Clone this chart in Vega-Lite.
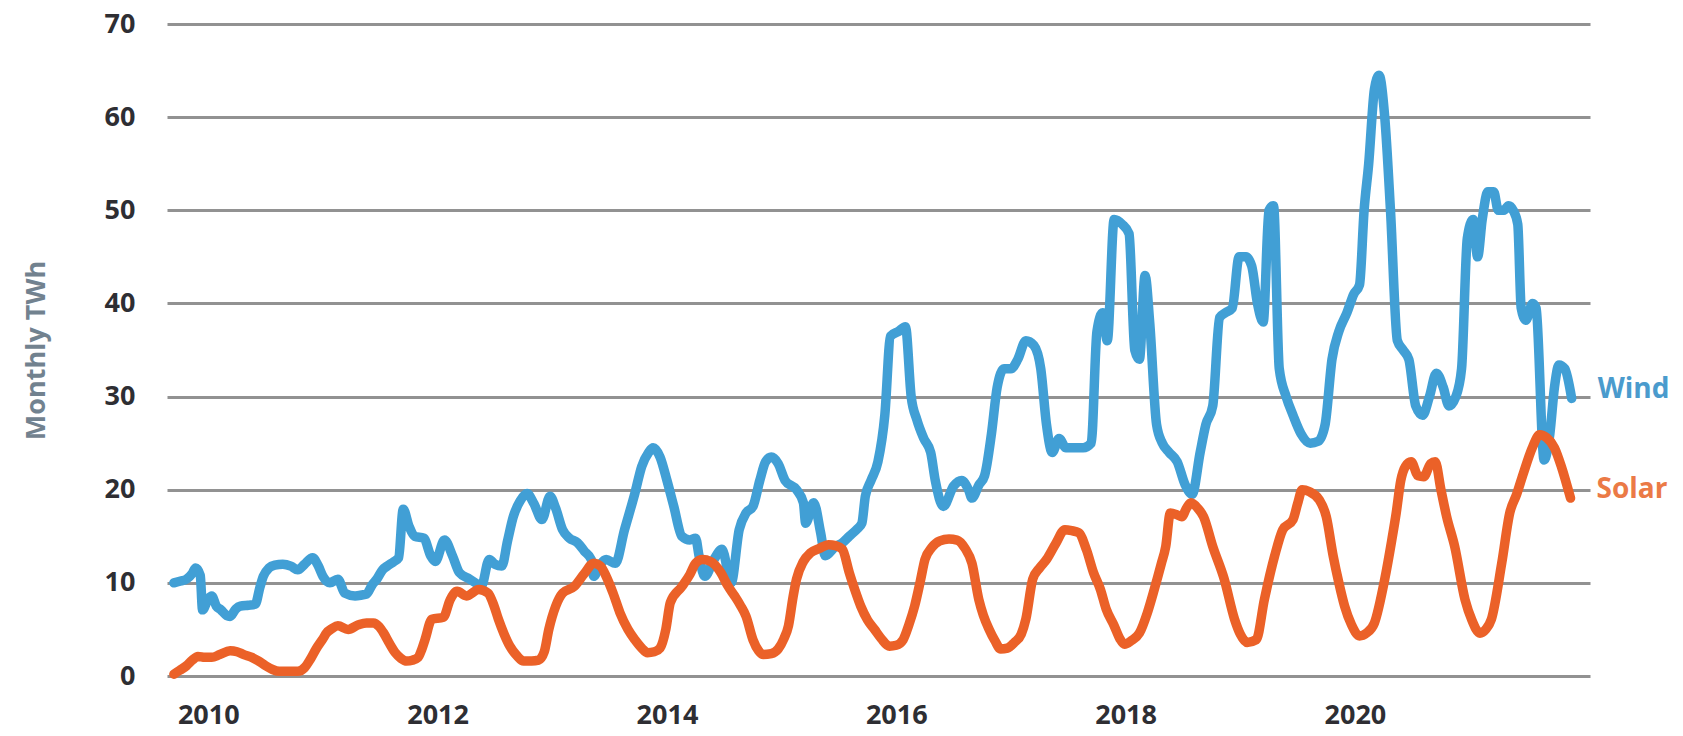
{
  "$schema": "https://vega.github.io/schema/vega-lite/v6.json",
  "autosize": "none",
  "width": 1423,
  "height": 652,
  "padding": {"left": 167, "top": 24, "right": 93, "bottom": 60},
  "background": "white",
  "config": {
    "view": {"stroke": null},
    "font": "Open Sans",
    "axis": {
      "labelFont": "Open Sans",
      "labelFontWeight": "bold",
      "labelFontSize": 27,
      "labelColor": "#2e2e33",
      "domain": false,
      "ticks": false
    }
  },
  "data": {
    "values": [
      {"series": "Wind", "year": 2009.70, "value": 10.0},
      {"series": "Wind", "year": 2009.76, "value": 10.2},
      {"series": "Wind", "year": 2009.81, "value": 10.4},
      {"series": "Wind", "year": 2009.86, "value": 11.0},
      {"series": "Wind", "year": 2009.89, "value": 11.6},
      {"series": "Wind", "year": 2009.93, "value": 10.8},
      {"series": "Wind", "year": 2009.95, "value": 7.1},
      {"series": "Wind", "year": 2010.00, "value": 8.3},
      {"series": "Wind", "year": 2010.03, "value": 8.6},
      {"series": "Wind", "year": 2010.07, "value": 7.5},
      {"series": "Wind", "year": 2010.11, "value": 7.1},
      {"series": "Wind", "year": 2010.16, "value": 6.5},
      {"series": "Wind", "year": 2010.19, "value": 6.4},
      {"series": "Wind", "year": 2010.24, "value": 7.2},
      {"series": "Wind", "year": 2010.28, "value": 7.5},
      {"series": "Wind", "year": 2010.35, "value": 7.6},
      {"series": "Wind", "year": 2010.41, "value": 7.7},
      {"series": "Wind", "year": 2010.45, "value": 9.5},
      {"series": "Wind", "year": 2010.48, "value": 10.7},
      {"series": "Wind", "year": 2010.53, "value": 11.6},
      {"series": "Wind", "year": 2010.58, "value": 11.9},
      {"series": "Wind", "year": 2010.65, "value": 12.0},
      {"series": "Wind", "year": 2010.72, "value": 11.8},
      {"series": "Wind", "year": 2010.78, "value": 11.4},
      {"series": "Wind", "year": 2010.84, "value": 12.0},
      {"series": "Wind", "year": 2010.91, "value": 12.7},
      {"series": "Wind", "year": 2010.96, "value": 11.8},
      {"series": "Wind", "year": 2011.00, "value": 10.7},
      {"series": "Wind", "year": 2011.06, "value": 10.0},
      {"series": "Wind", "year": 2011.13, "value": 10.4},
      {"series": "Wind", "year": 2011.19, "value": 8.9},
      {"series": "Wind", "year": 2011.28, "value": 8.6},
      {"series": "Wind", "year": 2011.34, "value": 8.7},
      {"series": "Wind", "year": 2011.38, "value": 8.8},
      {"series": "Wind", "year": 2011.43, "value": 9.8},
      {"series": "Wind", "year": 2011.47, "value": 10.4},
      {"series": "Wind", "year": 2011.52, "value": 11.4},
      {"series": "Wind", "year": 2011.56, "value": 11.8},
      {"series": "Wind", "year": 2011.62, "value": 12.3},
      {"series": "Wind", "year": 2011.66, "value": 12.7},
      {"series": "Wind", "year": 2011.70, "value": 17.9},
      {"series": "Wind", "year": 2011.75, "value": 16.1},
      {"series": "Wind", "year": 2011.80, "value": 15.0},
      {"series": "Wind", "year": 2011.88, "value": 14.8},
      {"series": "Wind", "year": 2011.94, "value": 12.9},
      {"series": "Wind", "year": 2011.98, "value": 12.3},
      {"series": "Wind", "year": 2012.06, "value": 14.6},
      {"series": "Wind", "year": 2012.13, "value": 12.9},
      {"series": "Wind", "year": 2012.19, "value": 11.1},
      {"series": "Wind", "year": 2012.28, "value": 10.4},
      {"series": "Wind", "year": 2012.33, "value": 10.0},
      {"series": "Wind", "year": 2012.38, "value": 9.6},
      {"series": "Wind", "year": 2012.45, "value": 12.5},
      {"series": "Wind", "year": 2012.50, "value": 12.0},
      {"series": "Wind", "year": 2012.56, "value": 11.8},
      {"series": "Wind", "year": 2012.61, "value": 14.5},
      {"series": "Wind", "year": 2012.66, "value": 17.1},
      {"series": "Wind", "year": 2012.72, "value": 18.8},
      {"series": "Wind", "year": 2012.78, "value": 19.6},
      {"series": "Wind", "year": 2012.84, "value": 18.5},
      {"series": "Wind", "year": 2012.91, "value": 16.8},
      {"series": "Wind", "year": 2012.98, "value": 19.3},
      {"series": "Wind", "year": 2013.03, "value": 18.0},
      {"series": "Wind", "year": 2013.09, "value": 15.7},
      {"series": "Wind", "year": 2013.15, "value": 14.8},
      {"series": "Wind", "year": 2013.22, "value": 14.3},
      {"series": "Wind", "year": 2013.28, "value": 13.4},
      {"series": "Wind", "year": 2013.34, "value": 12.5},
      {"series": "Wind", "year": 2013.36, "value": 10.7},
      {"series": "Wind", "year": 2013.42, "value": 12.0},
      {"series": "Wind", "year": 2013.47, "value": 12.5},
      {"series": "Wind", "year": 2013.55, "value": 12.1},
      {"series": "Wind", "year": 2013.63, "value": 15.7},
      {"series": "Wind", "year": 2013.72, "value": 19.6},
      {"series": "Wind", "year": 2013.78, "value": 22.5},
      {"series": "Wind", "year": 2013.84, "value": 24.0},
      {"series": "Wind", "year": 2013.88, "value": 24.5},
      {"series": "Wind", "year": 2013.94, "value": 23.5},
      {"series": "Wind", "year": 2014.00, "value": 21.0},
      {"series": "Wind", "year": 2014.06, "value": 18.2},
      {"series": "Wind", "year": 2014.13, "value": 15.0},
      {"series": "Wind", "year": 2014.20, "value": 14.6},
      {"series": "Wind", "year": 2014.25, "value": 14.8},
      {"series": "Wind", "year": 2014.28, "value": 12.9},
      {"series": "Wind", "year": 2014.33, "value": 10.7},
      {"series": "Wind", "year": 2014.41, "value": 12.5},
      {"series": "Wind", "year": 2014.48, "value": 13.6},
      {"series": "Wind", "year": 2014.56, "value": 10.0},
      {"series": "Wind", "year": 2014.63, "value": 15.7},
      {"series": "Wind", "year": 2014.69, "value": 17.5},
      {"series": "Wind", "year": 2014.75, "value": 18.2},
      {"series": "Wind", "year": 2014.81, "value": 21.0},
      {"series": "Wind", "year": 2014.86, "value": 23.0},
      {"series": "Wind", "year": 2014.91, "value": 23.5},
      {"series": "Wind", "year": 2014.97, "value": 22.8},
      {"series": "Wind", "year": 2015.03, "value": 21.0},
      {"series": "Wind", "year": 2015.13, "value": 20.0},
      {"series": "Wind", "year": 2015.19, "value": 18.6},
      {"series": "Wind", "year": 2015.21, "value": 16.4},
      {"series": "Wind", "year": 2015.28, "value": 18.6},
      {"series": "Wind", "year": 2015.34, "value": 15.4},
      {"series": "Wind", "year": 2015.38, "value": 12.9},
      {"series": "Wind", "year": 2015.47, "value": 13.9},
      {"series": "Wind", "year": 2015.53, "value": 14.3},
      {"series": "Wind", "year": 2015.59, "value": 15.0},
      {"series": "Wind", "year": 2015.66, "value": 15.8},
      {"series": "Wind", "year": 2015.70, "value": 16.4},
      {"series": "Wind", "year": 2015.73, "value": 19.3},
      {"series": "Wind", "year": 2015.78, "value": 21.0},
      {"series": "Wind", "year": 2015.84, "value": 23.0},
      {"series": "Wind", "year": 2015.90, "value": 28.0},
      {"series": "Wind", "year": 2015.95, "value": 36.5},
      {"series": "Wind", "year": 2016.02, "value": 37.0},
      {"series": "Wind", "year": 2016.08, "value": 37.5},
      {"series": "Wind", "year": 2016.13, "value": 30.0},
      {"series": "Wind", "year": 2016.18, "value": 27.5},
      {"series": "Wind", "year": 2016.24, "value": 25.5},
      {"series": "Wind", "year": 2016.30, "value": 24.0},
      {"series": "Wind", "year": 2016.34, "value": 21.0},
      {"series": "Wind", "year": 2016.41, "value": 18.2},
      {"series": "Wind", "year": 2016.50, "value": 20.4},
      {"series": "Wind", "year": 2016.57, "value": 21.0},
      {"series": "Wind", "year": 2016.63, "value": 20.0},
      {"series": "Wind", "year": 2016.66, "value": 19.1},
      {"series": "Wind", "year": 2016.72, "value": 20.5},
      {"series": "Wind", "year": 2016.77, "value": 21.5},
      {"series": "Wind", "year": 2016.83, "value": 26.0},
      {"series": "Wind", "year": 2016.88, "value": 31.0},
      {"series": "Wind", "year": 2016.94, "value": 33.0},
      {"series": "Wind", "year": 2017.00, "value": 33.0},
      {"series": "Wind", "year": 2017.06, "value": 34.0},
      {"series": "Wind", "year": 2017.13, "value": 36.0},
      {"series": "Wind", "year": 2017.20, "value": 35.5},
      {"series": "Wind", "year": 2017.26, "value": 33.0},
      {"series": "Wind", "year": 2017.31, "value": 27.0},
      {"series": "Wind", "year": 2017.36, "value": 24.0},
      {"series": "Wind", "year": 2017.42, "value": 25.5},
      {"series": "Wind", "year": 2017.48, "value": 24.5},
      {"series": "Wind", "year": 2017.55, "value": 24.5},
      {"series": "Wind", "year": 2017.63, "value": 24.5},
      {"series": "Wind", "year": 2017.70, "value": 25.0},
      {"series": "Wind", "year": 2017.75, "value": 37.0},
      {"series": "Wind", "year": 2017.80, "value": 39.0},
      {"series": "Wind", "year": 2017.84, "value": 36.0},
      {"series": "Wind", "year": 2017.90, "value": 49.0},
      {"series": "Wind", "year": 2017.97, "value": 48.5},
      {"series": "Wind", "year": 2018.03, "value": 47.5},
      {"series": "Wind", "year": 2018.08, "value": 35.0},
      {"series": "Wind", "year": 2018.12, "value": 34.0},
      {"series": "Wind", "year": 2018.17, "value": 43.0},
      {"series": "Wind", "year": 2018.21, "value": 38.0},
      {"series": "Wind", "year": 2018.27, "value": 27.0},
      {"series": "Wind", "year": 2018.32, "value": 25.0},
      {"series": "Wind", "year": 2018.38, "value": 24.0},
      {"series": "Wind", "year": 2018.45, "value": 23.0},
      {"series": "Wind", "year": 2018.52, "value": 20.5},
      {"series": "Wind", "year": 2018.58, "value": 19.5},
      {"series": "Wind", "year": 2018.65, "value": 24.0},
      {"series": "Wind", "year": 2018.70, "value": 27.0},
      {"series": "Wind", "year": 2018.76, "value": 29.0},
      {"series": "Wind", "year": 2018.82, "value": 38.5},
      {"series": "Wind", "year": 2018.87, "value": 39.0},
      {"series": "Wind", "year": 2018.93, "value": 39.5},
      {"series": "Wind", "year": 2018.99, "value": 45.0},
      {"series": "Wind", "year": 2019.05, "value": 45.0},
      {"series": "Wind", "year": 2019.10, "value": 44.0},
      {"series": "Wind", "year": 2019.15, "value": 40.0},
      {"series": "Wind", "year": 2019.20, "value": 38.0},
      {"series": "Wind", "year": 2019.25, "value": 50.0},
      {"series": "Wind", "year": 2019.29, "value": 50.5},
      {"series": "Wind", "year": 2019.34, "value": 33.0},
      {"series": "Wind", "year": 2019.40, "value": 30.0},
      {"series": "Wind", "year": 2019.46, "value": 28.0},
      {"series": "Wind", "year": 2019.53, "value": 26.0},
      {"series": "Wind", "year": 2019.61, "value": 25.0},
      {"series": "Wind", "year": 2019.68, "value": 25.2},
      {"series": "Wind", "year": 2019.74, "value": 27.0},
      {"series": "Wind", "year": 2019.80, "value": 34.0},
      {"series": "Wind", "year": 2019.86, "value": 37.0},
      {"series": "Wind", "year": 2019.93, "value": 39.0},
      {"series": "Wind", "year": 2019.99, "value": 41.0},
      {"series": "Wind", "year": 2020.04, "value": 42.0},
      {"series": "Wind", "year": 2020.08, "value": 50.0},
      {"series": "Wind", "year": 2020.12, "value": 55.0},
      {"series": "Wind", "year": 2020.17, "value": 63.0},
      {"series": "Wind", "year": 2020.21, "value": 64.5},
      {"series": "Wind", "year": 2020.26, "value": 60.0},
      {"series": "Wind", "year": 2020.31, "value": 50.0},
      {"series": "Wind", "year": 2020.37, "value": 36.0},
      {"series": "Wind", "year": 2020.42, "value": 35.0},
      {"series": "Wind", "year": 2020.47, "value": 34.0},
      {"series": "Wind", "year": 2020.53, "value": 29.0},
      {"series": "Wind", "year": 2020.59, "value": 28.0},
      {"series": "Wind", "year": 2020.65, "value": 30.0},
      {"series": "Wind", "year": 2020.71, "value": 32.5},
      {"series": "Wind", "year": 2020.77, "value": 31.0},
      {"series": "Wind", "year": 2020.82, "value": 29.0},
      {"series": "Wind", "year": 2020.88, "value": 30.0},
      {"series": "Wind", "year": 2020.93, "value": 33.0},
      {"series": "Wind", "year": 2020.98, "value": 47.0},
      {"series": "Wind", "year": 2021.03, "value": 49.0},
      {"series": "Wind", "year": 2021.07, "value": 45.0},
      {"series": "Wind", "year": 2021.11, "value": 49.0},
      {"series": "Wind", "year": 2021.16, "value": 52.0},
      {"series": "Wind", "year": 2021.21, "value": 52.0},
      {"series": "Wind", "year": 2021.25, "value": 50.0},
      {"series": "Wind", "year": 2021.30, "value": 50.0},
      {"series": "Wind", "year": 2021.34, "value": 50.5},
      {"series": "Wind", "year": 2021.38, "value": 50.0},
      {"series": "Wind", "year": 2021.42, "value": 48.5},
      {"series": "Wind", "year": 2021.45, "value": 39.5},
      {"series": "Wind", "year": 2021.49, "value": 38.2},
      {"series": "Wind", "year": 2021.55, "value": 40.0},
      {"series": "Wind", "year": 2021.58, "value": 39.5},
      {"series": "Wind", "year": 2021.65, "value": 23.2},
      {"series": "Wind", "year": 2021.70, "value": 26.0},
      {"series": "Wind", "year": 2021.74, "value": 31.0},
      {"series": "Wind", "year": 2021.78, "value": 33.4},
      {"series": "Wind", "year": 2021.83, "value": 33.0},
      {"series": "Wind", "year": 2021.89, "value": 29.8},
      {"series": "Solar", "year": 2009.70, "value": 0.2},
      {"series": "Solar", "year": 2009.75, "value": 0.6},
      {"series": "Solar", "year": 2009.81, "value": 1.1},
      {"series": "Solar", "year": 2009.86, "value": 1.7},
      {"series": "Solar", "year": 2009.91, "value": 2.1},
      {"series": "Solar", "year": 2009.97, "value": 2.0},
      {"series": "Solar", "year": 2010.03, "value": 2.0},
      {"series": "Solar", "year": 2010.10, "value": 2.3},
      {"series": "Solar", "year": 2010.19, "value": 2.7},
      {"series": "Solar", "year": 2010.25, "value": 2.6},
      {"series": "Solar", "year": 2010.31, "value": 2.3},
      {"series": "Solar", "year": 2010.38, "value": 2.0},
      {"series": "Solar", "year": 2010.44, "value": 1.6},
      {"series": "Solar", "year": 2010.50, "value": 1.1},
      {"series": "Solar", "year": 2010.56, "value": 0.7},
      {"series": "Solar", "year": 2010.62, "value": 0.5},
      {"series": "Solar", "year": 2010.70, "value": 0.5},
      {"series": "Solar", "year": 2010.78, "value": 0.5},
      {"series": "Solar", "year": 2010.84, "value": 0.9},
      {"series": "Solar", "year": 2010.89, "value": 1.8},
      {"series": "Solar", "year": 2010.94, "value": 2.9},
      {"series": "Solar", "year": 2011.00, "value": 4.0},
      {"series": "Solar", "year": 2011.03, "value": 4.6},
      {"series": "Solar", "year": 2011.08, "value": 5.1},
      {"series": "Solar", "year": 2011.13, "value": 5.4},
      {"series": "Solar", "year": 2011.22, "value": 5.0},
      {"series": "Solar", "year": 2011.31, "value": 5.5},
      {"series": "Solar", "year": 2011.38, "value": 5.7},
      {"series": "Solar", "year": 2011.44, "value": 5.7},
      {"series": "Solar", "year": 2011.49, "value": 5.3},
      {"series": "Solar", "year": 2011.53, "value": 4.6},
      {"series": "Solar", "year": 2011.58, "value": 3.5},
      {"series": "Solar", "year": 2011.63, "value": 2.5},
      {"series": "Solar", "year": 2011.68, "value": 1.9},
      {"series": "Solar", "year": 2011.73, "value": 1.6},
      {"series": "Solar", "year": 2011.78, "value": 1.7},
      {"series": "Solar", "year": 2011.83, "value": 2.0},
      {"series": "Solar", "year": 2011.86, "value": 2.8},
      {"series": "Solar", "year": 2011.89, "value": 3.9},
      {"series": "Solar", "year": 2011.95, "value": 6.1},
      {"series": "Solar", "year": 2012.05, "value": 6.3},
      {"series": "Solar", "year": 2012.11, "value": 8.2},
      {"series": "Solar", "year": 2012.17, "value": 9.1},
      {"series": "Solar", "year": 2012.25, "value": 8.6},
      {"series": "Solar", "year": 2012.36, "value": 9.3},
      {"series": "Solar", "year": 2012.44, "value": 8.9},
      {"series": "Solar", "year": 2012.49, "value": 7.6},
      {"series": "Solar", "year": 2012.53, "value": 6.1},
      {"series": "Solar", "year": 2012.58, "value": 4.5},
      {"series": "Solar", "year": 2012.63, "value": 3.2},
      {"series": "Solar", "year": 2012.69, "value": 2.2},
      {"series": "Solar", "year": 2012.75, "value": 1.6},
      {"series": "Solar", "year": 2012.82, "value": 1.6},
      {"series": "Solar", "year": 2012.88, "value": 1.7},
      {"series": "Solar", "year": 2012.93, "value": 2.6},
      {"series": "Solar", "year": 2012.97, "value": 5.0},
      {"series": "Solar", "year": 2013.03, "value": 7.5},
      {"series": "Solar", "year": 2013.09, "value": 8.9},
      {"series": "Solar", "year": 2013.19, "value": 9.6},
      {"series": "Solar", "year": 2013.28, "value": 11.0},
      {"series": "Solar", "year": 2013.36, "value": 12.1},
      {"series": "Solar", "year": 2013.42, "value": 11.8},
      {"series": "Solar", "year": 2013.47, "value": 10.7},
      {"series": "Solar", "year": 2013.53, "value": 8.9},
      {"series": "Solar", "year": 2013.59, "value": 6.8},
      {"series": "Solar", "year": 2013.66, "value": 5.0},
      {"series": "Solar", "year": 2013.72, "value": 3.9},
      {"series": "Solar", "year": 2013.78, "value": 3.0},
      {"series": "Solar", "year": 2013.83, "value": 2.5},
      {"series": "Solar", "year": 2013.89, "value": 2.6},
      {"series": "Solar", "year": 2013.94, "value": 3.0},
      {"series": "Solar", "year": 2013.99, "value": 5.0},
      {"series": "Solar", "year": 2014.03, "value": 7.9},
      {"series": "Solar", "year": 2014.13, "value": 9.6},
      {"series": "Solar", "year": 2014.20, "value": 10.9},
      {"series": "Solar", "year": 2014.25, "value": 12.1},
      {"series": "Solar", "year": 2014.31, "value": 12.5},
      {"series": "Solar", "year": 2014.38, "value": 12.3},
      {"series": "Solar", "year": 2014.47, "value": 11.1},
      {"series": "Solar", "year": 2014.53, "value": 9.7},
      {"series": "Solar", "year": 2014.59, "value": 8.6},
      {"series": "Solar", "year": 2014.64, "value": 7.6},
      {"series": "Solar", "year": 2014.69, "value": 6.4},
      {"series": "Solar", "year": 2014.75, "value": 3.9},
      {"series": "Solar", "year": 2014.80, "value": 2.7},
      {"series": "Solar", "year": 2014.84, "value": 2.3},
      {"series": "Solar", "year": 2014.91, "value": 2.4},
      {"series": "Solar", "year": 2014.97, "value": 2.9},
      {"series": "Solar", "year": 2015.02, "value": 4.0},
      {"series": "Solar", "year": 2015.06, "value": 5.4},
      {"series": "Solar", "year": 2015.10, "value": 8.5},
      {"series": "Solar", "year": 2015.13, "value": 10.4},
      {"series": "Solar", "year": 2015.19, "value": 12.3},
      {"series": "Solar", "year": 2015.25, "value": 13.2},
      {"series": "Solar", "year": 2015.33, "value": 13.7},
      {"series": "Solar", "year": 2015.41, "value": 14.1},
      {"series": "Solar", "year": 2015.47, "value": 14.0},
      {"series": "Solar", "year": 2015.53, "value": 13.6},
      {"series": "Solar", "year": 2015.59, "value": 11.1},
      {"series": "Solar", "year": 2015.64, "value": 9.2},
      {"series": "Solar", "year": 2015.69, "value": 7.5},
      {"series": "Solar", "year": 2015.75, "value": 6.0},
      {"series": "Solar", "year": 2015.81, "value": 5.0},
      {"series": "Solar", "year": 2015.87, "value": 4.0},
      {"series": "Solar", "year": 2015.94, "value": 3.2},
      {"series": "Solar", "year": 2016.00, "value": 3.3},
      {"series": "Solar", "year": 2016.06, "value": 3.9},
      {"series": "Solar", "year": 2016.11, "value": 5.5},
      {"series": "Solar", "year": 2016.16, "value": 7.5},
      {"series": "Solar", "year": 2016.21, "value": 10.2},
      {"series": "Solar", "year": 2016.25, "value": 12.5},
      {"series": "Solar", "year": 2016.31, "value": 13.8},
      {"series": "Solar", "year": 2016.38, "value": 14.5},
      {"series": "Solar", "year": 2016.46, "value": 14.7},
      {"series": "Solar", "year": 2016.53, "value": 14.6},
      {"series": "Solar", "year": 2016.60, "value": 13.7},
      {"series": "Solar", "year": 2016.66, "value": 12.1},
      {"series": "Solar", "year": 2016.72, "value": 8.2},
      {"series": "Solar", "year": 2016.76, "value": 6.5},
      {"series": "Solar", "year": 2016.81, "value": 5.0},
      {"series": "Solar", "year": 2016.86, "value": 3.8},
      {"series": "Solar", "year": 2016.91, "value": 2.9},
      {"series": "Solar", "year": 2016.97, "value": 3.0},
      {"series": "Solar", "year": 2017.03, "value": 3.6},
      {"series": "Solar", "year": 2017.09, "value": 4.5},
      {"series": "Solar", "year": 2017.13, "value": 6.1},
      {"series": "Solar", "year": 2017.19, "value": 10.4},
      {"series": "Solar", "year": 2017.25, "value": 11.6},
      {"series": "Solar", "year": 2017.31, "value": 12.5},
      {"series": "Solar", "year": 2017.39, "value": 14.2},
      {"series": "Solar", "year": 2017.47, "value": 15.7},
      {"series": "Solar", "year": 2017.53, "value": 15.6},
      {"series": "Solar", "year": 2017.59, "value": 15.4},
      {"series": "Solar", "year": 2017.66, "value": 13.5},
      {"series": "Solar", "year": 2017.72, "value": 11.1},
      {"series": "Solar", "year": 2017.78, "value": 9.3},
      {"series": "Solar", "year": 2017.83, "value": 7.2},
      {"series": "Solar", "year": 2017.90, "value": 5.4},
      {"series": "Solar", "year": 2017.95, "value": 4.0},
      {"series": "Solar", "year": 2017.99, "value": 3.4},
      {"series": "Solar", "year": 2018.05, "value": 3.8},
      {"series": "Solar", "year": 2018.12, "value": 4.6},
      {"series": "Solar", "year": 2018.19, "value": 6.8},
      {"series": "Solar", "year": 2018.25, "value": 9.3},
      {"series": "Solar", "year": 2018.31, "value": 12.0},
      {"series": "Solar", "year": 2018.35, "value": 13.9},
      {"series": "Solar", "year": 2018.39, "value": 17.5},
      {"series": "Solar", "year": 2018.45, "value": 17.3},
      {"series": "Solar", "year": 2018.49, "value": 17.1},
      {"series": "Solar", "year": 2018.53, "value": 18.0},
      {"series": "Solar", "year": 2018.57, "value": 18.6},
      {"series": "Solar", "year": 2018.63, "value": 18.0},
      {"series": "Solar", "year": 2018.68, "value": 17.1},
      {"series": "Solar", "year": 2018.76, "value": 13.9},
      {"series": "Solar", "year": 2018.86, "value": 10.4},
      {"series": "Solar", "year": 2018.95, "value": 6.1},
      {"series": "Solar", "year": 2019.00, "value": 4.5},
      {"series": "Solar", "year": 2019.06, "value": 3.6},
      {"series": "Solar", "year": 2019.14, "value": 3.9},
      {"series": "Solar", "year": 2019.21, "value": 8.2},
      {"series": "Solar", "year": 2019.30, "value": 12.9},
      {"series": "Solar", "year": 2019.37, "value": 15.7},
      {"series": "Solar", "year": 2019.46, "value": 16.8},
      {"series": "Solar", "year": 2019.50, "value": 18.5},
      {"series": "Solar", "year": 2019.54, "value": 20.0},
      {"series": "Solar", "year": 2019.60, "value": 19.8},
      {"series": "Solar", "year": 2019.69, "value": 18.9},
      {"series": "Solar", "year": 2019.75, "value": 17.1},
      {"series": "Solar", "year": 2019.81, "value": 12.9},
      {"series": "Solar", "year": 2019.86, "value": 10.0},
      {"series": "Solar", "year": 2019.91, "value": 7.5},
      {"series": "Solar", "year": 2019.97, "value": 5.5},
      {"series": "Solar", "year": 2020.04, "value": 4.3},
      {"series": "Solar", "year": 2020.10, "value": 4.6},
      {"series": "Solar", "year": 2020.17, "value": 5.7},
      {"series": "Solar", "year": 2020.26, "value": 10.4},
      {"series": "Solar", "year": 2020.32, "value": 14.5},
      {"series": "Solar", "year": 2020.36, "value": 17.5},
      {"series": "Solar", "year": 2020.40, "value": 21.0},
      {"series": "Solar", "year": 2020.44, "value": 22.5},
      {"series": "Solar", "year": 2020.49, "value": 23.0},
      {"series": "Solar", "year": 2020.55, "value": 21.5},
      {"series": "Solar", "year": 2020.60, "value": 21.4},
      {"series": "Solar", "year": 2020.66, "value": 22.8},
      {"series": "Solar", "year": 2020.70, "value": 23.0},
      {"series": "Solar", "year": 2020.75, "value": 20.0},
      {"series": "Solar", "year": 2020.80, "value": 17.1},
      {"series": "Solar", "year": 2020.87, "value": 13.9},
      {"series": "Solar", "year": 2020.96, "value": 8.2},
      {"series": "Solar", "year": 2021.02, "value": 6.0},
      {"series": "Solar", "year": 2021.09, "value": 4.6},
      {"series": "Solar", "year": 2021.14, "value": 5.0},
      {"series": "Solar", "year": 2021.19, "value": 6.1},
      {"series": "Solar", "year": 2021.28, "value": 12.1},
      {"series": "Solar", "year": 2021.35, "value": 17.5},
      {"series": "Solar", "year": 2021.41, "value": 19.5},
      {"series": "Solar", "year": 2021.47, "value": 21.8},
      {"series": "Solar", "year": 2021.55, "value": 24.6},
      {"series": "Solar", "year": 2021.61, "value": 25.9},
      {"series": "Solar", "year": 2021.67, "value": 25.6},
      {"series": "Solar", "year": 2021.74, "value": 24.5},
      {"series": "Solar", "year": 2021.80, "value": 22.5},
      {"series": "Solar", "year": 2021.88, "value": 19.1}
    ]
  },
  "encoding": {
    "x": {
      "field": "year",
      "type": "quantitative",
      "scale": {"domain": [2009.64, 2022.05], "nice": false, "zero": false},
      "axis": {
        "title": null,
        "values": [2010, 2012, 2014, 2016, 2018, 2020],
        "format": "d",
        "grid": false,
        "labelPadding": 26,
        "labelFlush": false
      }
    },
    "y": {
      "field": "value",
      "type": "quantitative",
      "scale": {"domain": [0, 70], "nice": false},
      "axis": {
        "title": "Monthly TWh",
        "titleFont": "Open Sans",
        "titleFontSize": 27,
        "titleFontWeight": "bold",
        "titleColor": "#72828f",
        "titlePadding": 54,
        "values": [0, 10, 20, 30, 40, 50, 60, 70],
        "grid": true,
        "gridColor": "#929292",
        "gridWidth": 3,
        "labelPadding": 32
      }
    }
  },
  "layer": [
    {
      "mark": {"type": "line", "strokeWidth": 9.5, "interpolate": "monotone", "strokeCap": "round", "strokeJoin": "round"},
      "encoding": {
        "color": {
          "field": "series",
          "type": "nominal",
          "scale": {"domain": ["Solar", "Wind"], "range": ["#eb6128", "#419fd5"]},
          "legend": null
        }
      }
    },
    {
      "transform": [
        {"joinaggregate": [{"op": "max", "field": "year", "as": "lastYear"}], "groupby": ["series"]},
        {"filter": "datum.year === datum.lastYear"}
      ],
      "mark": {"type": "text", "align": "left", "baseline": "middle", "dx": 26, "fontSize": 28, "fontWeight": "bold", "font": "Open Sans"},
      "encoding": {
        "text": {"field": "series"},
        "yOffset": {"condition": {"test": "datum.series === 'Solar'", "value": 15}, "value": -8},
        "color": {
          "field": "series",
          "type": "nominal",
          "scale": {"domain": ["Solar", "Wind"], "range": ["#eb7a46", "#4a9bcd"]},
          "legend": null
        }
      }
    }
  ],
  "resolve": {"scale": {"color": "independent"}}
}
